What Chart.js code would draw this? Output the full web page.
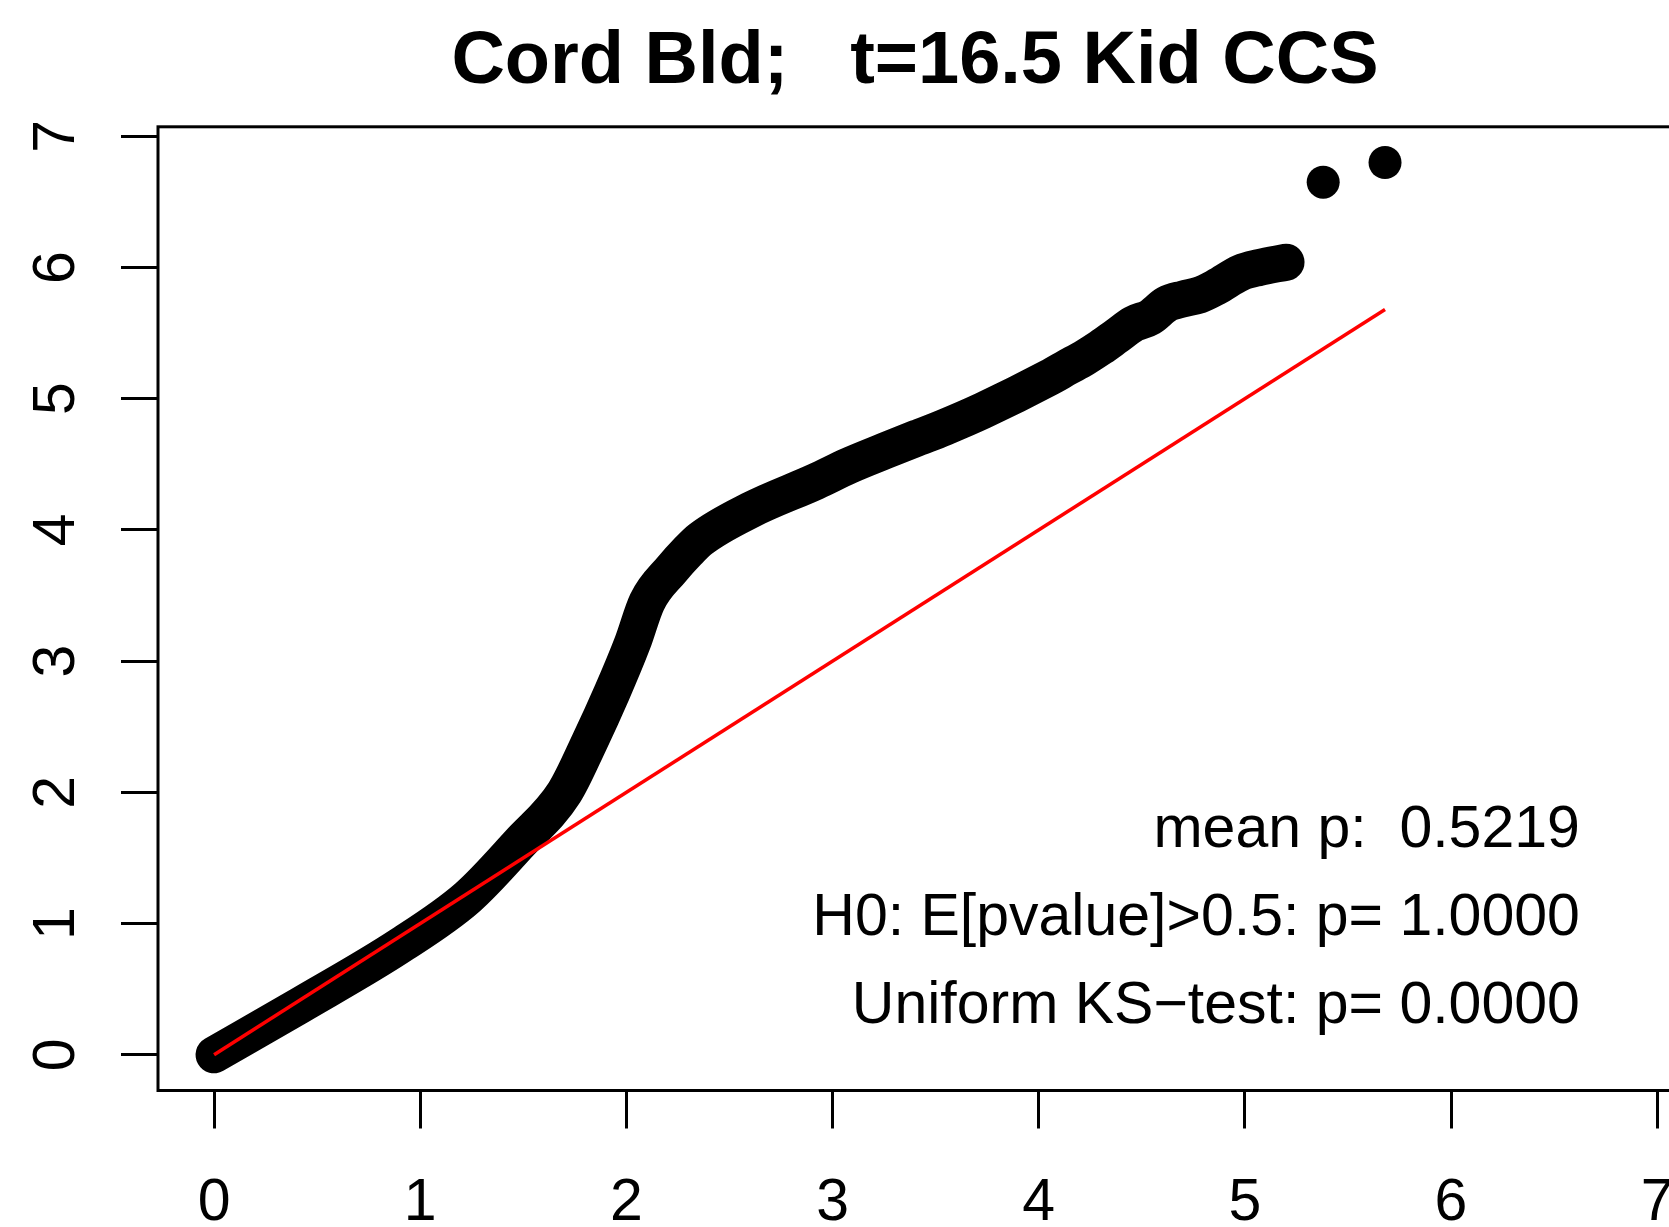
<!DOCTYPE html>
<html>
<head>
<meta charset="utf-8">
<title>Cord Bld QQ</title>
<script src="https://cdn.jsdelivr.net/npm/chart.js@4.4.1/dist/chart.umd.min.js"></script>
<style>
    html, body { margin: 0; padding: 0; background: #fff; overflow: hidden; }
    .chart-container { position: relative; width: 1700px; height: 1227px; }
</style>
</head>
<body>
<div class="chart-container">
    <canvas id="qqChart" width="1700" height="1227"></canvas>
</div>
<script>
// QQ plot values: expected vs observed -log10(p)
const expectedX = [0, 0.42, 0.90, 1.23, 1.48, 1.70, 1.82, 1.93, 2.03, 2.10, 2.22, 2.30, 2.36, 2.60, 2.92, 3.08, 3.25, 3.41, 3.54, 3.73, 4.05, 4.14, 4.22, 4.30, 4.38, 4.46, 4.54, 4.62, 4.70, 4.78, 4.86, 4.98, 5.07, 5.20];
const observedY = [0, 0.38, 0.83, 1.20, 1.61, 2.00, 2.38, 2.76, 3.14, 3.45, 3.70, 3.84, 3.93, 4.15, 4.37, 4.49, 4.60, 4.70, 4.78, 4.91, 5.16, 5.24, 5.31, 5.39, 5.48, 5.57, 5.62, 5.72, 5.76, 5.79, 5.85, 5.96, 6.00, 6.04];

// two isolated top points
const outlierX = [5.38, 5.68];
const outlierY = [6.65, 6.80];

// y = x reference line
const refLineX = [0, 5.68];
const refLineY = [0, 5.68];

const xTicks = [0, 1, 2, 3, 4, 5, 6, 7];
const yTicks = [0, 1, 2, 3, 4, 5, 6, 7];

const titleText = "Cord Bld;   t=16.5 Kid CCS";
const noteLines = [
    "mean p:  0.5219",
    "H0: E[pvalue]>0.5: p= 1.0000",
    "Uniform KS\u2212test: p= 0.0000",
];

const FONT = "'Liberation Sans', Arial, Helvetica, sans-serif";

const toPoints = (xs, ys) => xs.map((x, i) => ({ x: x, y: ys[i] }));

// box, rotated y labels and the three text lines (R base graphics look)
const rStylePlugin = {
    id: "rStyle",
    afterDraw(chart) {
        const { ctx, chartArea, scales } = chart;
        ctx.save();
        ctx.strokeStyle = "#000";
        ctx.lineWidth = 3;
        ctx.strokeRect(chartArea.left, chartArea.top, chartArea.right - chartArea.left, chartArea.bottom - chartArea.top);

        ctx.fillStyle = "#000";
        ctx.font = "59px " + FONT;
        ctx.textAlign = "center";
        ctx.textBaseline = "alphabetic";
        yTicks.forEach((v) => {
            const py = scales.y.getPixelForValue(v);
            ctx.save();
            ctx.translate(74, py);
            ctx.rotate(-Math.PI / 2);
            ctx.fillText(String(v), 0, 0);
            ctx.restore();
        });

        // stats text, right aligned inside the plot
        ctx.textAlign = "right";
        const noteX = scales.x.getPixelForValue(6.625);
        const noteY = [1.587, 0.914, 0.240];
        noteLines.forEach((line, i) => {
            ctx.fillText(line, noteX, scales.y.getPixelForValue(noteY[i]));
        });
        ctx.restore();
    },
};

const ctx = document.getElementById("qqChart").getContext("2d");

new Chart(ctx, {
    type: "scatter",
    data: {
        datasets: [
            {
                label: "y = x",
                data: toPoints(refLineX, refLineY),
                showLine: true,
                borderColor: "#ff0000",
                borderWidth: 3.5,
                pointRadius: 0,
            },
            {
                label: "observed",
                data: toPoints(expectedX, observedY),
                showLine: true,
                borderColor: "#000",
                borderWidth: 37,
                borderCapStyle: "round",
                borderJoinStyle: "round",
                cubicInterpolationMode: "monotone",
                pointRadius: 17,
                pointBackgroundColor: "#000",
                pointBorderWidth: 0,
            },
            {
                label: "top hits",
                data: toPoints(outlierX, outlierY),
                pointRadius: 16.5,
                pointBackgroundColor: "#000",
                pointBorderWidth: 0,
            },
        ],
    },
    options: {
        responsive: false,
        animation: false,
        layout: {
            padding: { top: 0, right: 28, bottom: 0, left: 0 },
        },
        scales: {
            x: {
                type: "linear",
                min: -0.272,
                max: 7.072,
                afterBuildTicks: (scale) => {
                    scale.ticks = xTicks.map((v) => ({ value: v }));
                },
                afterFit: (scale) => {
                    scale.height = 136.5;
                    // plot box runs off the right edge, like the original
                    scale.paddingLeft = 0;
                    scale.paddingRight = 0;
                },
                grid: {
                    display: true,
                    drawOnChartArea: false,
                    drawTicks: true,
                    tickLength: 38,
                    color: "#000",
                    lineWidth: 3,
                },
                border: { display: false },
                ticks: {
                    color: "#000",
                    padding: 40,
                    maxRotation: 0,
                    autoSkip: false,
                    font: { family: FONT, size: 59 },
                },
            },
            y: {
                type: "linear",
                min: -0.272,
                max: 7.072,
                afterBuildTicks: (scale) => {
                    scale.ticks = yTicks.map((v) => ({ value: v }));
                },
                afterFit: (scale) => {
                    scale.width = 158;
                },
                grid: {
                    display: true,
                    drawOnChartArea: false,
                    drawTicks: true,
                    tickLength: 37,
                    color: "#000",
                    lineWidth: 3,
                },
                border: { display: false },
                ticks: { display: false },
            },
        },
        plugins: {
            legend: { display: false },
            tooltip: { enabled: false },
            title: {
                display: true,
                text: titleText,
                fullSize: false,
                color: "#000",
                font: { family: FONT, size: 74, weight: "bold" },
                padding: { top: 18, bottom: 20 },
            },
        },
    },
    plugins: [rStylePlugin],
});
</script>
</body>
</html>
